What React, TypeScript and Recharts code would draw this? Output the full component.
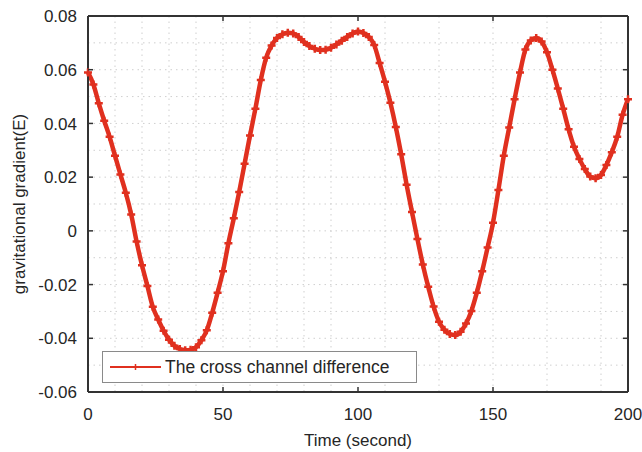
import { LineChart, Line, XAxis, YAxis, CartesianGrid } from 'recharts'

const TIME = [
  0, 2, 4, 6, 8, 10, 12, 14, 16, 18, 20, 22, 24, 26, 28, 30, 32, 34, 36, 38, 40,
  42, 44, 46, 48, 50, 52, 54, 56, 58, 60, 62, 64, 66, 68, 70, 72, 74, 76, 78, 80,
  82, 84, 86, 88, 90, 92, 94, 96, 98, 100, 102, 104, 106, 108, 110, 112, 114, 116, 118, 120,
  122, 124, 126, 128, 130, 132, 134, 136, 138, 140, 142, 144, 146, 148, 150, 152, 154, 156, 158, 160,
  162, 164, 166, 168, 170, 172, 174, 176, 178, 180, 182, 184, 186, 188, 190, 192, 194, 196, 198, 200,
]

const CROSS_DIFF = [
  0.059, 0.0545, 0.0475, 0.041, 0.035, 0.028, 0.021, 0.0142, 0.0061, -0.004, -0.0128,
  -0.0205, -0.0283, -0.033, -0.0372, -0.0405, -0.0428, -0.044, -0.0445, -0.0443, -0.0433,
  -0.0407, -0.037, -0.0305, -0.023, -0.015, -0.0046, 0.0047, 0.0145, 0.025, 0.0355,
  0.0455, 0.0562, 0.0645, 0.069, 0.0718, 0.0732, 0.0738, 0.0735, 0.0722, 0.0703,
  0.0688, 0.0678, 0.0673, 0.0674, 0.0682, 0.0694, 0.0708, 0.0722, 0.0735, 0.0742,
  0.0737, 0.0722, 0.0692, 0.0625, 0.0555, 0.0477, 0.0387, 0.0285, 0.0172, 0.007,
  -0.003, -0.0125, -0.0208, -0.0282, -0.0338, -0.0368, -0.0384, -0.0388, -0.0376, -0.0345,
  -0.0298, -0.023, -0.015, -0.0062, 0.003, 0.0152, 0.028, 0.0385, 0.049, 0.059,
  0.0675, 0.0709, 0.0718, 0.0705, 0.0665, 0.06, 0.053, 0.0455, 0.0378, 0.0313,
  0.0268, 0.023, 0.0202, 0.0196, 0.0208, 0.0245, 0.0293, 0.035, 0.0432, 0.049,
]

const X_TICKS = [0, 50, 100, 150, 200]
const Y_TICKS = [-0.06, -0.04, -0.02, 0, 0.02, 0.04, 0.06, 0.08]
const X_GRID = [10, 20, 30, 40, 50, 60, 70, 80, 90, 100, 110, 120, 130, 140, 150, 160, 170, 180, 190]
const Y_GRID = [-0.05, -0.04, -0.03, -0.02, -0.01, 0, 0.01, 0.02, 0.03, 0.04, 0.05, 0.06, 0.07]

const SERIES_NAME = 'The cross channel difference'

const data = TIME.map((t, i) => ({ t, v: CROSS_DIFF[i] }))

// the page's default 8px body margin would clip the "200" tick label
if (typeof document !== 'undefined') document.body.style.margin = '0'

const RED = '#e0301f'
const AXIS = '#333333'
const FONT = '"Liberation Sans", Arial, Helvetica, sans-serif'
const FS = 17

const fmtY = (v: number) => (v === 0 ? '0' : v.toFixed(2))

const YTick = ({ x, y, payload }: any) => (
  <g>
    <line x1={x} x2={x + 5} y1={y} y2={y} stroke={AXIS} strokeWidth={1.5} />
    <text x={x - 11} y={y} dy="0.36em" textAnchor="end" fill="#262626" fontSize={FS} fontFamily={FONT}>
      {fmtY(payload.value)}
    </text>
  </g>
)

const XTick = ({ x, y, payload }: any) => (
  <g>
    <line x1={x} x2={x} y1={y} y2={y - 5} stroke={AXIS} strokeWidth={1.5} />
    <text x={x} y={y + 28} textAnchor="middle" fill="#262626" fontSize={FS} fontFamily={FONT}>
      {payload.value}
    </text>
  </g>
)

const NoTick = () => <g />

const PlusDot = ({ cx, cy, index }: any) => (
  <path
    key={index}
    d={`M${cx - 4},${cy}H${cx + 4}M${cx},${cy - 4}V${cy + 4}`}
    stroke={RED}
    strokeWidth={2.5}
    fill="none"
  />
)

const App = () => (
  <div style={{ position: 'relative', width: 642, height: 452 }}>
    <LineChart width={642} height={452} data={data} margin={{ top: 16, right: 14, left: 0, bottom: 0 }}>
      <CartesianGrid
        stroke="#cfcfcf"
        strokeDasharray="1.5 4"
        verticalValues={X_GRID}
        horizontalValues={Y_GRID}
      />
      <XAxis
        dataKey="t"
        type="number"
        domain={[0, 200]}
        ticks={X_TICKS}
        height={60}
        tickSize={0}
        tickMargin={0}
        tickLine={false}
        tick={XTick}
        axisLine={{ stroke: AXIS, strokeWidth: 2 }}
        label={{
          value: 'Time (second)',
          position: 'insideBottom',
          offset: 6,
          style: { fill: '#262626', fontSize: FS, fontFamily: FONT },
        }}
      />
      <XAxis
        xAxisId="top"
        orientation="top"
        mirror
        dataKey="t"
        type="number"
        domain={[0, 200]}
        ticks={X_TICKS}
        tickSize={5}
        tick={NoTick}
        tickLine={{ stroke: AXIS, strokeWidth: 1.5 }}
        axisLine={{ stroke: AXIS, strokeWidth: 2 }}
      />
      <YAxis
        type="number"
        domain={[-0.06, 0.08]}
        ticks={Y_TICKS}
        width={88}
        tickSize={0}
        tickMargin={0}
        tickLine={false}
        tick={YTick}
        axisLine={{ stroke: AXIS, strokeWidth: 2 }}
        allowDataOverflow
        label={{
          value: 'gravitational gradient(E)',
          angle: -90,
          position: 'insideLeft',
          offset: 19,
          style: { textAnchor: 'middle', fill: '#262626', fontSize: FS, fontFamily: FONT },
        }}
      />
      <YAxis
        yAxisId="right"
        orientation="right"
        mirror
        type="number"
        domain={[-0.06, 0.08]}
        ticks={Y_TICKS}
        tickSize={5}
        tick={NoTick}
        tickLine={{ stroke: AXIS, strokeWidth: 1.5 }}
        axisLine={{ stroke: AXIS, strokeWidth: 2 }}
        allowDataOverflow
      />
      <Line
        type="monotone"
        dataKey="v"
        name={SERIES_NAME}
        stroke={RED}
        strokeWidth={4.5}
        dot={PlusDot}
        activeDot={false}
        isAnimationActive={false}
      />
    </LineChart>
    <div
      style={{
        position: 'absolute',
        left: 102,
        top: 351,
        width: 313,
        height: 30,
        background: '#fff',
        border: '1.5px solid #8a8a8a',
        display: 'flex',
        alignItems: 'center',
        fontFamily: FONT,
        fontSize: FS + 0.5,
        color: '#262626',
      }}
    >
      <svg width={60} height={30} style={{ flex: 'none' }}>
        <line x1={7} x2={58} y1={15} y2={15} stroke={RED} strokeWidth={2} />
        <path d="M32.5,12V18M30,15H35" stroke={RED} strokeWidth={1.5} />
      </svg>
      <span style={{ marginLeft: 2, whiteSpace: 'nowrap' }}>{SERIES_NAME}</span>
    </div>
  </div>
)

export default App
